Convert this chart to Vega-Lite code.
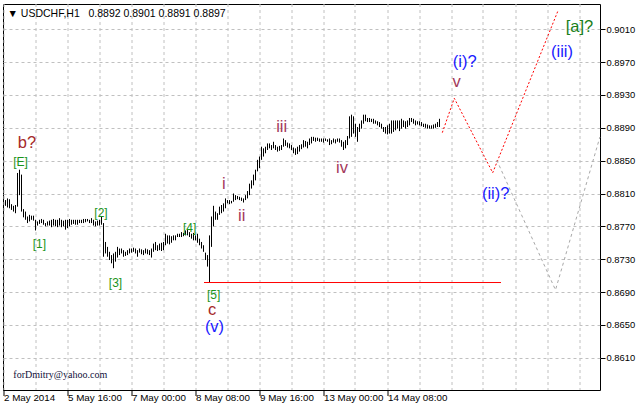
{
  "$schema": "https://vega.github.io/schema/vega-lite/v6.json",
  "width": 597,
  "height": 386,
  "autosize": {"type": "none"},
  "padding": {"left": 3, "top": 4, "right": 37, "bottom": 17},
  "background": "white",
  "config": {
    "view": {"stroke": "black", "strokeWidth": 1},
    "axis": {"labelFont": "Liberation Sans", "labelColor": "black", "labelOverlap": false}
  },
  "title": {
    "text": "▼ USDCHF,H1\u00a0\u00a0 0.8892 0.8901 0.8891 0.8897",
    "anchor": "start",
    "frame": "group",
    "offset": -15,
    "dx": 4.5,
    "font": "Liberation Sans",
    "fontSize": 10.5,
    "fontWeight": "normal",
    "color": "black"
  },
  "datasets": {
    "bars": [
      {"i":1,"l":0.8795,"h":0.8802},{"i":2,"l":0.8793,"h":0.8804},{"i":3,"l":0.8792,"h":0.8803},{"i":4,"l":0.8790,"h":0.8797},
      {"i":5,"l":0.8788,"h":0.8795},{"i":6,"l":0.8786,"h":0.8796},{"i":7,"l":0.8794,"h":0.8835},{"i":8,"l":0.8808,"h":0.8839},
      {"i":9,"l":0.8788,"h":0.8833},{"i":10,"l":0.8781,"h":0.8791},{"i":11,"l":0.8778,"h":0.8788},{"i":12,"l":0.8774,"h":0.8782},
      {"i":13,"l":0.8776,"h":0.8784},{"i":14,"l":0.8778,"h":0.8783},{"i":15,"l":0.8777,"h":0.8783},{"i":16,"l":0.8765,"h":0.8778},
      {"i":17,"l":0.8771,"h":0.8776},{"i":18,"l":0.8773,"h":0.8778},{"i":19,"l":0.8774,"h":0.8779},{"i":20,"l":0.8772,"h":0.8778},
      {"i":21,"l":0.8770,"h":0.8774},{"i":22,"l":0.8771,"h":0.8776},{"i":23,"l":0.8771,"h":0.8777},{"i":24,"l":0.8769,"h":0.8778},
      {"i":25,"l":0.8771,"h":0.8779},{"i":26,"l":0.8770,"h":0.8778},{"i":27,"l":0.8769,"h":0.8778},{"i":28,"l":0.8771,"h":0.8780},
      {"i":29,"l":0.8769,"h":0.8778},{"i":30,"l":0.8770,"h":0.8777},{"i":31,"l":0.8766,"h":0.8778},{"i":32,"l":0.8768,"h":0.8778},
      {"i":33,"l":0.8770,"h":0.8779},{"i":34,"l":0.8772,"h":0.8778},{"i":35,"l":0.8773,"h":0.8778},{"i":36,"l":0.8772,"h":0.8778},
      {"i":37,"l":0.8772,"h":0.8778},{"i":38,"l":0.8774,"h":0.8778},{"i":39,"l":0.8774,"h":0.8778},{"i":40,"l":0.8774,"h":0.8779},
      {"i":41,"l":0.8775,"h":0.8779},{"i":42,"l":0.8776,"h":0.8779},{"i":43,"l":0.8774,"h":0.8778},{"i":44,"l":0.8774,"h":0.8780},
      {"i":45,"l":0.8771,"h":0.8778},{"i":46,"l":0.8770,"h":0.8776},{"i":47,"l":0.8771,"h":0.8777},{"i":48,"l":0.8771,"h":0.8778},
      {"i":49,"l":0.8772,"h":0.8782},{"i":50,"l":0.8733,"h":0.8774},{"i":51,"l":0.8737,"h":0.8751},{"i":52,"l":0.8733,"h":0.8745},
      {"i":53,"l":0.8729,"h":0.8739},{"i":54,"l":0.8725,"h":0.8735},{"i":55,"l":0.8719,"h":0.8737},{"i":56,"l":0.8727,"h":0.8739},
      {"i":57,"l":0.8732,"h":0.8745},{"i":58,"l":0.8735,"h":0.8743},{"i":59,"l":0.8737,"h":0.8743},{"i":60,"l":0.8733,"h":0.8741},
      {"i":61,"l":0.8734,"h":0.8739},{"i":62,"l":0.8735,"h":0.8741},{"i":63,"l":0.8737,"h":0.8743},{"i":64,"l":0.8738,"h":0.8743},
      {"i":65,"l":0.8739,"h":0.8744},{"i":66,"l":0.8737,"h":0.8743},{"i":67,"l":0.8733,"h":0.8741},{"i":68,"l":0.8738,"h":0.8743},
      {"i":69,"l":0.8736,"h":0.8742},{"i":70,"l":0.8735,"h":0.8741},{"i":71,"l":0.8737,"h":0.8743},{"i":72,"l":0.8736,"h":0.8742},
      {"i":73,"l":0.8735,"h":0.8741},{"i":74,"l":0.8732,"h":0.8743},{"i":75,"l":0.8739,"h":0.8749},{"i":76,"l":0.8741,"h":0.8751},
      {"i":77,"l":0.8740,"h":0.8747},{"i":78,"l":0.8741,"h":0.8749},{"i":79,"l":0.8740,"h":0.8750},{"i":80,"l":0.8741,"h":0.8751},
      {"i":81,"l":0.8747,"h":0.8761},{"i":82,"l":0.8749,"h":0.8759},{"i":83,"l":0.8748,"h":0.8759},{"i":84,"l":0.8750,"h":0.8758},
      {"i":85,"l":0.8753,"h":0.8759},{"i":86,"l":0.8753,"h":0.8759},{"i":87,"l":0.8757,"h":0.8761},{"i":88,"l":0.8757,"h":0.8761},
      {"i":89,"l":0.8757,"h":0.8763},{"i":90,"l":0.8758,"h":0.8762},{"i":91,"l":0.8759,"h":0.8765},{"i":92,"l":0.8759,"h":0.8767},
      {"i":93,"l":0.8757,"h":0.8763},{"i":94,"l":0.8755,"h":0.8761},{"i":95,"l":0.8753,"h":0.8762},{"i":96,"l":0.8753,"h":0.8759},
      {"i":97,"l":0.8750,"h":0.8761},{"i":98,"l":0.8747,"h":0.8755},{"i":99,"l":0.8743,"h":0.8751},{"i":100,"l":0.8739,"h":0.8747},
      {"i":101,"l":0.8729,"h":0.8738},{"i":102,"l":0.8721,"h":0.8735},{"i":103,"l":0.8702,"h":0.8759},{"i":104,"l":0.8745,"h":0.8782},
      {"i":105,"l":0.8770,"h":0.8795},{"i":106,"l":0.8778,"h":0.8788},{"i":107,"l":0.8778,"h":0.8786},{"i":108,"l":0.8784,"h":0.8794},
      {"i":109,"l":0.8786,"h":0.8796},{"i":110,"l":0.8788,"h":0.8798},{"i":111,"l":0.8792,"h":0.8804},{"i":112,"l":0.8798,"h":0.8802},
      {"i":113,"l":0.8797,"h":0.8802},{"i":114,"l":0.8798,"h":0.8801},{"i":115,"l":0.8800,"h":0.8810},{"i":116,"l":0.8802,"h":0.8808},
      {"i":117,"l":0.8803,"h":0.8807},{"i":118,"l":0.8802,"h":0.8806},{"i":119,"l":0.8801,"h":0.8805},{"i":120,"l":0.8799,"h":0.8804},
      {"i":121,"l":0.8802,"h":0.8808},{"i":122,"l":0.8804,"h":0.8813},{"i":123,"l":0.8808,"h":0.8822},{"i":124,"l":0.8816,"h":0.8826},
      {"i":125,"l":0.8820,"h":0.8833},{"i":126,"l":0.8826,"h":0.8839},{"i":127,"l":0.8837,"h":0.8851},{"i":128,"l":0.8841,"h":0.8855},
      {"i":129,"l":0.8851,"h":0.8867},{"i":130,"l":0.8855,"h":0.8865},{"i":131,"l":0.8859,"h":0.8867},{"i":132,"l":0.8863,"h":0.8871},
      {"i":133,"l":0.8865,"h":0.8871},{"i":134,"l":0.8863,"h":0.8869},{"i":135,"l":0.8865,"h":0.8873},{"i":136,"l":0.8863,"h":0.8869},
      {"i":137,"l":0.8861,"h":0.8867},{"i":138,"l":0.8862,"h":0.8868},{"i":139,"l":0.8863,"h":0.8869},{"i":140,"l":0.8867,"h":0.8877},
      {"i":141,"l":0.8868,"h":0.8875},{"i":142,"l":0.8866,"h":0.8872},{"i":143,"l":0.8865,"h":0.8871},{"i":144,"l":0.8863,"h":0.8869},
      {"i":145,"l":0.8859,"h":0.8866},{"i":146,"l":0.8857,"h":0.8865},{"i":147,"l":0.8858,"h":0.8867},{"i":148,"l":0.8861,"h":0.8869},
      {"i":149,"l":0.8864,"h":0.8870},{"i":150,"l":0.8866,"h":0.8875},{"i":151,"l":0.8867,"h":0.8874},{"i":152,"l":0.8865,"h":0.8873},
      {"i":153,"l":0.8869,"h":0.8877},{"i":154,"l":0.8871,"h":0.8879},{"i":155,"l":0.8874,"h":0.8879},{"i":156,"l":0.8873,"h":0.8878},
      {"i":157,"l":0.8874,"h":0.8878},{"i":158,"l":0.8873,"h":0.8877},{"i":159,"l":0.8873,"h":0.8877},{"i":160,"l":0.8872,"h":0.8877},
      {"i":161,"l":0.8874,"h":0.8877},{"i":162,"l":0.8873,"h":0.8876},{"i":163,"l":0.8869,"h":0.8877},{"i":164,"l":0.8870,"h":0.8875},
      {"i":165,"l":0.8872,"h":0.8877},{"i":166,"l":0.8871,"h":0.8876},{"i":167,"l":0.8873,"h":0.8877},{"i":168,"l":0.8872,"h":0.8877},
      {"i":169,"l":0.8867,"h":0.8875},{"i":170,"l":0.8863,"h":0.8873},{"i":171,"l":0.8865,"h":0.8875},{"i":172,"l":0.8869,"h":0.8880},
      {"i":173,"l":0.8877,"h":0.8904},{"i":174,"l":0.8879,"h":0.8906},{"i":175,"l":0.8883,"h":0.8904},{"i":176,"l":0.8879,"h":0.8895},
      {"i":177,"l":0.8873,"h":0.8891},{"i":178,"l":0.8885,"h":0.8895},{"i":179,"l":0.8889,"h":0.8899},{"i":180,"l":0.8895,"h":0.8906},
      {"i":181,"l":0.8898,"h":0.8906},{"i":182,"l":0.8897,"h":0.8902},{"i":183,"l":0.8897,"h":0.8902},{"i":184,"l":0.8897,"h":0.8901},
      {"i":185,"l":0.8895,"h":0.8901},{"i":186,"l":0.8895,"h":0.8899},{"i":187,"l":0.8893,"h":0.8898},{"i":188,"l":0.8891,"h":0.8897},
      {"i":189,"l":0.8889,"h":0.8895},{"i":190,"l":0.8885,"h":0.8891},{"i":191,"l":0.8883,"h":0.8891},{"i":192,"l":0.8882,"h":0.8893},
      {"i":193,"l":0.8883,"h":0.8895},{"i":194,"l":0.8883,"h":0.8899},{"i":195,"l":0.8885,"h":0.8899},{"i":196,"l":0.8887,"h":0.8899},
      {"i":197,"l":0.8889,"h":0.8899},{"i":198,"l":0.8886,"h":0.8899},{"i":199,"l":0.8889,"h":0.8901},{"i":200,"l":0.8891,"h":0.8899},
      {"i":201,"l":0.8889,"h":0.8898},{"i":202,"l":0.8891,"h":0.8899},{"i":203,"l":0.8893,"h":0.8902},{"i":204,"l":0.8897,"h":0.8902},
      {"i":205,"l":0.8895,"h":0.8901},{"i":206,"l":0.8893,"h":0.8899},{"i":207,"l":0.8894,"h":0.8898},{"i":208,"l":0.8893,"h":0.8898},
      {"i":209,"l":0.8892,"h":0.8897},{"i":210,"l":0.8891,"h":0.8895},{"i":211,"l":0.8890,"h":0.8895},{"i":212,"l":0.8889,"h":0.8894},
      {"i":213,"l":0.8889,"h":0.8893},{"i":214,"l":0.8889,"h":0.8893},{"i":215,"l":0.8889,"h":0.8894},{"i":216,"l":0.8890,"h":0.8895},
      {"i":217,"l":0.8891,"h":0.8897},{"i":218,"l":0.8891,"h":0.8901}
    ],
    "labels": [
      {"t":"b?","w":"abc","i":11.75,"p":0.88721},
      {"t":"[E]","w":"[n]","i":8.5,"p":0.88484},
      {"t":"[1]","w":"[n]","i":17.9,"p":0.87489},
      {"t":"[2]","w":"[n]","i":48.75,"p":0.87863},
      {"t":"[3]","w":"[n]","i":56,"p":0.87014},
      {"t":"[4]","w":"[n]","i":93.1,"p":0.87676},
      {"t":"[5]","w":"[n]","i":105.1,"p":0.86870},
      {"t":"c","w":"abc","i":104.25,"p":0.86680},
      {"t":"(v)","w":"(n)","i":105.5,"p":0.86480},
      {"t":"i","w":"roman","i":110.15,"p":0.88210},
      {"t":"ii","w":"roman","i":119.1,"p":0.87826},
      {"t":"iii","w":"roman","i":139.1,"p":0.88916},
      {"t":"iv","w":"roman","i":169.25,"p":0.88411},
      {"t":"v","w":"roman","i":226.5,"p":0.89460},
      {"t":"(i)?","w":"(n)","i":230.6,"p":0.89700},
      {"t":"(ii)?","w":"(n)","i":246.1,"p":0.88097},
      {"t":"(iii)","w":"(n)","i":279.25,"p":0.89818},
      {"t":"[a]?","w":"[a]","i":288,"p":0.90122}
    ],
    "proj": [
      {"i":219.4,"p":0.88841,"o":1},{"i":225.4,"p":0.89260,"o":2},{"i":244.6,"p":0.88353,"o":3},{"i":277.4,"p":0.90335,"o":4}
    ],
    "alt": [
      {"i":246.6,"p":0.88508,"o":1},{"i":276,"p":0.86925,"o":2},{"i":298.2,"p":0.88788,"o":3}
    ],
    "lvl": [{"a":100.25,"b":248.75,"p":0.87016}],
    "note": [{"t":"forDmitry@yahoo.com","i":4.9,"p":0.85849}]
  },
  "layer": [
    {
      "data": {"name": "bars"},
      "mark": {"type": "rule", "color": "black", "strokeWidth": 1},
      "encoding": {
        "x": {
          "field": "i", "type": "quantitative", "title": null,
          "scale": {"domain": [-0.25, 298.25], "nice": false, "zero": false},
          "axis": {
            "orient": "bottom",
            "values": [0,16,32,48,64,80,96,112,128,144,160,176,192,208,224,240,256,272,288],
            "tickCount": 40,
            "labelExpr": "datum.value==0?'2 May 2014':datum.value==32?'5 May 16:00':datum.value==64?'7 May 00:00':datum.value==96?'8 May 08:00':datum.value==128?'9 May 16:00':datum.value==160?'13 May 00:00':datum.value==192?'14 May 08:00':''",
            "labelAlign": "left", "labelBaseline": "top", "labelFontSize": 9.8,
            "labelPadding": -3.4, "labelOffset": 0.5,
            "labelOverlap": false, "labelBound": false, "labelFlush": false,
            "tickSize": 6, "tickColor": "black",
            "tickOpacity": {"condition": {"test": "datum.value % 32 == 0 && datum.value <= 192", "value": 1}, "value": 0},
            "grid": true, "gridColor": "#c0c0c0", "gridDash": [3, 3], "gridWidth": 1,
            "domain": false, "translate": 0, "title": null
          }
        },
        "y": {
          "field": "l", "type": "quantitative", "title": null,
          "scale": {"domain": [0.85707, 0.90408], "nice": false, "zero": false},
          "axis": {
            "orient": "right",
            "values": [0.861,0.865,0.869,0.873,0.877,0.881,0.885,0.889,0.893,0.897,0.901],
            "tickCount": 30,
            "format": ".4f", "labelFontSize": 9.4, "labelPadding": 1,
            "labelAlign": "left", "labelBaseline": "middle",
            "labelOverlap": false, "labelBound": false, "labelFlush": false,
            "tickSize": 5, "tickColor": "black",
            "grid": true, "gridColor": "#c0c0c0", "gridDash": [3, 3], "gridWidth": 1,
            "domain": false, "title": null
          }
        },
        "y2": {"field": "h"}
      }
    },
    {
      "data": {"name": "lvl"},
      "mark": {"type": "rule", "color": "#ff0000", "strokeWidth": 1},
      "encoding": {
        "x": {"field": "a", "type": "quantitative", "title": null},
        "x2": {"field": "b"},
        "y": {"field": "p", "type": "quantitative", "title": null}
      }
    },
    {
      "data": {"name": "proj"},
      "mark": {"type": "line", "color": "#ff0000", "strokeWidth": 1, "strokeDash": [2, 2]},
      "encoding": {
        "x": {"field": "i", "type": "quantitative", "title": null},
        "y": {"field": "p", "type": "quantitative", "title": null},
        "order": {"field": "o"}
      }
    },
    {
      "data": {"name": "alt"},
      "mark": {"type": "line", "color": "#a8a8a8", "strokeWidth": 1, "strokeDash": [3, 3]},
      "encoding": {
        "x": {"field": "i", "type": "quantitative", "title": null},
        "y": {"field": "p", "type": "quantitative", "title": null},
        "order": {"field": "o"}
      }
    },
    {
      "data": {"name": "labels"},
      "transform": [{"filter": "datum.w == '[n]'"}],
      "mark": {"type": "text", "font": "Liberation Sans", "fontSize": 12, "align": "center", "baseline": "middle"},
      "encoding": {
        "x": {"field": "i", "type": "quantitative", "title": null},
        "y": {"field": "p", "type": "quantitative", "title": null},
        "text": {"field": "t"},
        "color": {
          "field": "w", "type": "nominal", "legend": null,
          "scale": {"domain": ["[n]", "[a]", "abc", "roman", "(n)"], "range": ["#1a941a", "#1a801a", "#a52a2a", "#a3385a", "#1a1aff"]}
        }
      }
    },
    {
      "data": {"name": "labels"},
      "transform": [{"filter": "datum.w != '[n]'"}],
      "mark": {"type": "text", "font": "Liberation Sans", "fontSize": 16.5, "align": "center", "baseline": "middle"},
      "encoding": {
        "x": {"field": "i", "type": "quantitative", "title": null},
        "y": {"field": "p", "type": "quantitative", "title": null},
        "text": {"field": "t"},
        "color": {"field": "w", "type": "nominal", "legend": null}
      }
    },
    {
      "data": {"name": "note"},
      "mark": {"type": "text", "font": "Liberation Serif", "fontSize": 10, "align": "left", "baseline": "alphabetic", "color": "#10103a"},
      "encoding": {
        "x": {"field": "i", "type": "quantitative", "title": null},
        "y": {"field": "p", "type": "quantitative", "title": null},
        "text": {"field": "t"}
      }
    }
  ]
}
